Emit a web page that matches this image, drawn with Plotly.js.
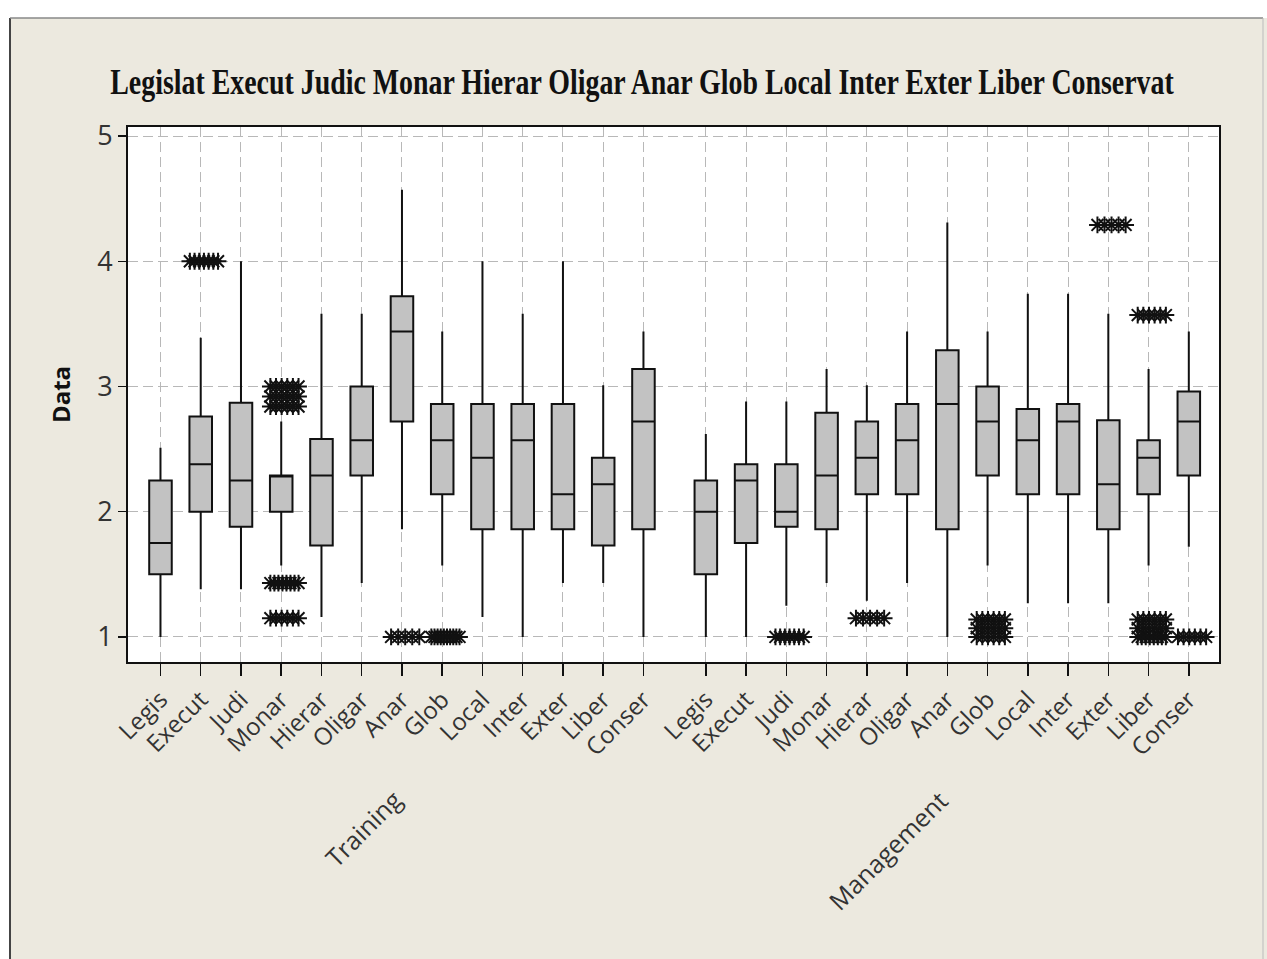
<!DOCTYPE html>
<html>
<head>
<meta charset="utf-8">
<script src="https://cdn.plot.ly/plotly-3.0.1.min.js"></script>
<style>
  html, body { margin: 0; padding: 0; background: #ffffff; }
  #chart { width: 1267px; height: 959px; }
</style>
</head>
<body>
<div id="chart"></div>
<script>
// Item short names (same order in both groups)
const categories = ['Legis', 'Execut', 'Judi', 'Monar', 'Hierar', 'Oligar', 'Anar',
                    'Glob', 'Local', 'Inter', 'Exter', 'Liber', 'Conser'];
const groupNames = ['Training', 'Management'];

// Box summaries: lower whisker end, Q1, median, Q3, upper whisker end
const trainingLow    = [1.00, 1.38, 1.38, 1.57, 1.16, 1.43, 1.86, 1.57, 1.16, 1.00, 1.43, 1.43, 1.00];
const trainingQ1     = [1.50, 2.00, 1.88, 2.00, 1.73, 2.29, 2.72, 2.14, 1.86, 1.86, 1.86, 1.73, 1.86];
const trainingMedian = [1.75, 2.38, 2.25, 2.29, 2.29, 2.57, 3.44, 2.57, 2.43, 2.57, 2.14, 2.22, 2.72];
const trainingQ3     = [2.25, 2.76, 2.87, 2.29, 2.58, 3.00, 3.72, 2.86, 2.86, 2.86, 2.86, 2.43, 3.14];
const trainingHigh   = [2.51, 3.39, 4.00, 2.72, 3.58, 3.58, 4.57, 3.44, 4.00, 3.58, 4.00, 3.01, 3.44];

const managementLow    = [1.00, 1.00, 1.25, 1.43, 1.29, 1.43, 1.00, 1.57, 1.27, 1.27, 1.27, 1.57, 1.72];
const managementQ1     = [1.50, 1.75, 1.88, 1.86, 2.14, 2.14, 1.86, 2.29, 2.14, 2.14, 1.86, 2.14, 2.29];
const managementMedian = [2.00, 2.25, 2.00, 2.29, 2.43, 2.57, 2.86, 2.72, 2.57, 2.72, 2.22, 2.43, 2.72];
const managementQ3     = [2.25, 2.38, 2.38, 2.79, 2.72, 2.86, 3.29, 3.00, 2.82, 2.86, 2.73, 2.57, 2.96];
const managementHigh   = [2.62, 2.88, 2.88, 3.14, 3.01, 3.44, 4.31, 3.44, 3.74, 3.74, 3.58, 3.14, 3.44];

// Outliers: one row of tied values per entry (category, value, how many)
const trainingOutlierCat   = ['Execut', 'Monar', 'Monar', 'Monar', 'Monar', 'Monar', 'Anar', 'Glob'];
const trainingOutlierValue = [4.00, 3.00, 2.92, 2.84, 1.43, 1.15, 1.00, 1.00];
const trainingOutlierCount = [7, 6, 6, 6, 8, 6, 5, 10];

const managementOutlierCat   = ['Judi', 'Hierar', 'Glob', 'Glob', 'Glob', 'Exter', 'Liber', 'Liber', 'Liber', 'Liber', 'Conser'];
const managementOutlierValue = [1.00, 1.15, 1.14, 1.07, 1.00, 4.29, 3.57, 1.14, 1.07, 1.00, 1.00];
const managementOutlierCount = [7, 5, 6, 6, 6, 5, 6, 6, 6, 8, 6];

const yTicks = [1, 2, 3, 4, 5];

// ---- layout helpers ----
const GROUP_STEP = 13.55;           // x offset of the second group
const pos = (g, i) => g * GROUP_STEP + i;

const groups = [
  { low: trainingLow, q1: trainingQ1, med: trainingMedian, q3: trainingQ3, high: trainingHigh,
    oc: trainingOutlierCat, ov: trainingOutlierValue, on: trainingOutlierCount },
  { low: managementLow, q1: managementQ1, med: managementMedian, q3: managementQ3, high: managementHigh,
    oc: managementOutlierCat, ov: managementOutlierValue, on: managementOutlierCount }
];

const traces = [];
const tickvals = [], ticktext = [];
const outX = [], outY = [];

groups.forEach((grp, g) => {
  const xs = categories.map((_, i) => pos(g, i));
  xs.forEach((x, i) => { tickvals.push(x); ticktext.push(categories[i]); });
  traces.push({
    type: 'box',
    x: xs,
    q1: grp.q1, median: grp.med, q3: grp.q3,
    lowerfence: grp.low, upperfence: grp.high,
    width: 0.56,
    whiskerwidth: 0,
    boxpoints: false,
    fillcolor: '#c2c2c2',
    line: { color: '#111111', width: 2 },
    hoverinfo: 'skip'
  });
  // tied outliers are laid side by side across a fixed span
  grp.oc.forEach((cat, k) => {
    const c = pos(g, categories.indexOf(cat)) + 0.08;
    const n = grp.on[k];
    const span = 0.70;
    for (let j = 0; j < n; j++) {
      outX.push(n > 1 ? c - span / 2 + span * j / (n - 1) : c);
      outY.push(grp.ov[k]);
    }
  });
});

traces.push({
  type: 'scatter',
  mode: 'markers',
  x: outX, y: outY,
  marker: { symbol: 'asterisk-open', size: 14, color: '#111', line: { color: '#111', width: 2 } },
  hoverinfo: 'skip'
});

// plot area in pixels: left 128, right 1219, top 127, bottom 662
const px = v => (v - 128) / 1091;
const py = v => (662 - v) / 535;

// group label sits with its upper end just right of the group's middle
const groupCentres = groupNames.map((_, g) => (pos(g, 0) + pos(g, categories.length - 1)) / 2 + 0.25);

const fontSans = 'Open Sans, Noto Sans, DejaVu Sans, sans-serif';
const TITLE_X = 642;          // title centre, px
const TITLE_WIDTH = 1064;     // condensed title width, px

const layout = {
  width: 1267, height: 959,
  margin: { l: 128, r: 48, t: 127, b: 297, pad: 0 },
  paper_bgcolor: '#ECE9DF',
  plot_bgcolor: '#ffffff',
  showlegend: false,
  title: {
    text: 'Legislat Execut Judic Monar Hierar Oligar Anar Glob Local Inter Exter Liber Conservat',
    font: { family: 'Liberation Serif, Times New Roman, serif', size: 36, color: '#111', weight: 'bold' },
    x: TITLE_X / 1267, xanchor: 'center',
    y: 1 - 81 / 959, yanchor: 'middle'
  },
  xaxis: {
    range: [-0.807, 26.30],
    tickmode: 'array', tickvals: tickvals, ticktext: ticktext,
    tickangle: -45,
    ticks: 'outside', ticklen: 12, tickwidth: 1.5, tickcolor: '#111',
    tickfont: { family: fontSans, size: 24, color: '#333' },
    showline: true, linecolor: '#111', linewidth: 2, mirror: true,
    showgrid: true, gridcolor: '#b8b8b8', gridwidth: 1, griddash: '10px,5px',
    zeroline: false, fixedrange: true
  },
  yaxis: {
    range: [0.8, 5.072],
    tickmode: 'array', tickvals: yTicks, ticktext: yTicks.map(String),
    ticks: 'outside', ticklen: 8, tickwidth: 1.5, tickcolor: '#111',
    tickfont: { family: fontSans, size: 27, color: '#333' },
    showline: true, linecolor: '#111', linewidth: 2, mirror: true,
    showgrid: true, gridcolor: '#b8b8b8', gridwidth: 1, griddash: '10px,5px',
    zeroline: false, fixedrange: true,
    title: { text: '<b>Data</b>', font: { family: fontSans, size: 24, color: '#111' }, standoff: 20 }
  },
  annotations: groupNames.map((name, g) => ({
    text: name,
    x: groupCentres[g], xref: 'x',
    y: py(780), yref: 'paper',
    xanchor: 'right', yanchor: 'top',
    textangle: -45,
    showarrow: false,
    font: { family: fontSans, size: 25, color: '#333' }
  })),
  shapes: [
    // white margin outside the figure frame
    { type: 'rect', xref: 'paper', yref: 'paper', x0: px(-20), x1: px(1290), y0: py(18), y1: py(-20),
      fillcolor: '#ffffff', line: { width: 0 }, layer: 'below' },
    { type: 'rect', xref: 'paper', yref: 'paper', x0: px(-20), x1: px(10), y0: py(980), y1: py(18),
      fillcolor: '#ffffff', line: { width: 0 }, layer: 'below' },
    // figure frame
    { type: 'line', xref: 'paper', yref: 'paper', x0: px(10), x1: px(10), y0: py(18), y1: py(980),
      line: { color: '#444', width: 2 } },
    { type: 'line', xref: 'paper', yref: 'paper', x0: px(10), x1: px(1263), y0: py(18), y1: py(18),
      line: { color: '#888', width: 1.5 } },
    { type: 'line', xref: 'paper', yref: 'paper', x0: px(1263), x1: px(1263), y0: py(18), y1: py(980),
      line: { color: '#bbb', width: 1 } }
  ]
};

Plotly.newPlot('chart', traces, layout, { staticPlot: true, displayModeBar: false }).then(() => {
  // condensed title face: scale the title horizontally about its centre
  const t = document.querySelector('.gtitle');
  if (t) {
    const w = t.getComputedTextLength();
    if (w > 0) {
      const sx = TITLE_WIDTH / w;
      t.setAttribute('transform', `matrix(${sx},0,0,1,${TITLE_X * (1 - sx)},0)`);
    }
  }
});
</script>
</body>
</html>
